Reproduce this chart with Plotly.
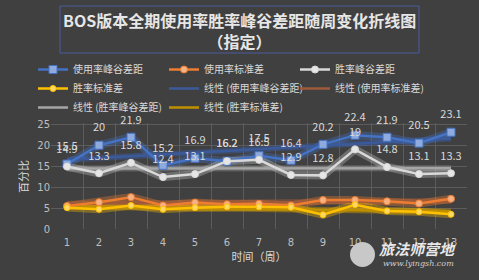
import numpy as np
import plotly.graph_objects as go

weeks = list(range(1, 14))
use_gap = [15.5, 20, 21.9, 15.2, 16.9, 16.2, 17.5, 16.4, 20.2, 22.4, 21.9, 20.5, 23.1]
use_std = [5.5, 6.4, 7.6, 5.6, 6.3, 5.9, 6.0, 5.6, 6.9, 6.9, 6.6, 6.1, 7.2]
win_gap = [14.9, 13.3, 15.8, 12.4, 13.1, 16.2, 16.5, 12.9, 12.8, 19.0, 14.8, 13.1, 13.3]
win_std = [5.1, 4.7, 5.6, 4.7, 5.1, 5.3, 5.3, 5.2, 3.4, 5.8, 4.3, 4.1, 3.5]
y_ticks = [0, 5, 10, 15, 20, 25]

FONT = "Noto Sans CJK SC"
TXT = "#d9d9d9"

series = [
    ("使用率峰谷差距", use_gap, "#4472C4", "rgba(68,114,196,0.35)", "square", 8, "#8FAADC", True),
    ("使用率标准差", use_std, "#ED7D31", "rgba(237,125,49,0.35)", "circle", 7, "#F4B183", False),
    ("胜率峰谷差距", win_gap, "#D9D9D9", "rgba(217,217,217,0.3)", "circle", 7, "#E7E6E6", True),
    ("胜率标准差", win_std, "#FFC000", "rgba(255,192,0,0.35)", "circle", 6, "#FFD966", False),
]
trend_colors = {
    "使用率峰谷差距": ("#3B5A9A", "rgba(59,90,154,0.5)"),
    "使用率标准差": ("#9E5A3A", "rgba(158,90,58,0.5)"),
    "胜率峰谷差距": ("#A6A6A6", "rgba(166,166,166,0.35)"),
    "胜率标准差": ("#BF9000", "rgba(191,144,0,0.5)"),
}

fig = go.Figure()

trend_traces = []
for name, vals, *_ in series:
    a, b = np.polyfit(weeks, vals, 1)
    ty = [a * w + b for w in weeks]
    col, glow = trend_colors[name]
    fig.add_trace(go.Scatter(x=weeks, y=ty, mode="lines", line=dict(color=glow, width=6),
                             showlegend=False, hoverinfo="skip"))
    trend_traces.append(go.Scatter(x=weeks, y=ty, mode="lines", name="线性 (" + name + ")",
                                   line=dict(color=col, width=2.5), legendrank=20 + len(trend_traces)))

for name, vals, col, glow, sym, size, mcol, lab in series:
    fig.add_trace(go.Scatter(x=weeks, y=vals, mode="lines", line=dict(color=glow, width=8),
                             showlegend=False, hoverinfo="skip"))

for t in trend_traces:
    fig.add_trace(t)

for i, (name, vals, col, glow, sym, size, mcol, lab) in enumerate(series):
    fig.add_trace(go.Scatter(
        x=weeks, y=vals, name=name, legendrank=i + 1, mode="lines+markers",
        line=dict(color=col, width=2.5),
        marker=dict(symbol=sym, size=size, color=mcol, line=dict(color=col, width=1)),
    ))

# data labels (above the points)
for name, vals, col, glow, sym, size, mcol, lab in series:
    if lab:
        fig.add_trace(go.Scatter(
            x=weeks, y=vals, mode="markers+text", text=[f"{v:g}" for v in vals],
            textposition="top center", textfont=dict(size=11, color=TXT, family=FONT),
            marker=dict(size=16, opacity=0), showlegend=False, hoverinfo="skip",
            cliponaxis=False))

L, R, T, B = 51, 12, 123, 51
H = 280 - T - B
W = 479 - L - R

def py(pix):
    return 1 + (T - pix) / H

def px(pix):
    return (pix - L) / W

fig.update_layout(
    width=479, height=280,
    margin=dict(l=L, r=R, t=T, b=B, autoexpand=False),
    paper_bgcolor="#404040", plot_bgcolor="#404040",
    font=dict(family=FONT, color=TXT, size=11),
    showlegend=True,
    legend=dict(orientation="h", x=px(33), xanchor="left", y=py(55), yanchor="top",
                entrywidth=86, entrywidthmode="pixels", itemwidth=30,
                font=dict(size=10, color=TXT, family=FONT), bgcolor="rgba(0,0,0,0)",
                tracegroupgap=0, traceorder="normal"),
    xaxis=dict(range=[0.5, 13.5], tickmode="array", tickvals=weeks,
               ticktext=[str(w) for w in weeks], showgrid=False, zeroline=False,
               showline=False, ticks="", ticklabelstandoff=6,
               tickfont=dict(size=10, color="#bfbfbf", family="DejaVu Sans"),
               title=dict(text="时间（周）", font=dict(size=11, color=TXT), standoff=6),
               minor=dict(tickmode="array", tickvals=[w - 0.5 for w in weeks] + [weeks[-1] + 0.5],
                          showgrid=True, gridcolor="#5c5c5c", gridwidth=1, ticks="")),
    yaxis=dict(range=[0, 25.3], tickvals=y_ticks, showgrid=True, gridcolor="#5c5c5c",
               zeroline=False, showline=False, ticks="",
               tickfont=dict(size=10, color="#bfbfbf", family="DejaVu Sans")),
    shapes=[dict(type="rect", xref="paper", yref="paper", x0=px(60), x1=px(419),
                 y0=py(53), y1=py(6), line=dict(color="#4a5c9c", width=1))],
    annotations=[
        dict(text="<b>BOS版本全期使用率胜率峰谷差距随周变化折线图<br>（指定）</b>",
             xref="paper", yref="paper", x=px(239.5), y=py(30), xanchor="center", yanchor="middle",
             showarrow=False, font=dict(size=16, color="#e6e6e6", family=FONT), align="center"),
        dict(text="百分比", xref="paper", yref="paper", x=px(23), y=py(177), textangle=-90,
             xanchor="center", yanchor="middle", showarrow=False,
             font=dict(size=11, color=TXT, family=FONT)),
        dict(text="<b><i>旅法师营地</i></b>", xref="paper", yref="paper", x=px(458), y=py(248),
             xanchor="right", yanchor="middle", showarrow=False,
             font=dict(size=15, color="#e8e8e8", family=FONT)),
        dict(text="<i>www.lyingsh.com</i>", xref="paper", yref="paper", x=px(456), y=py(263),
             xanchor="right", yanchor="middle", showarrow=False,
             font=dict(size=8, color="#d0d0d0", family="DejaVu Serif")),
    ],
)
fig.add_shape(type="circle", xref="paper", yref="paper", x0=px(350), x1=px(375),
              y0=py(267), y1=py(242), fillcolor="#c8c8c8", line=dict(width=0))

fig.write_html("out.html")
